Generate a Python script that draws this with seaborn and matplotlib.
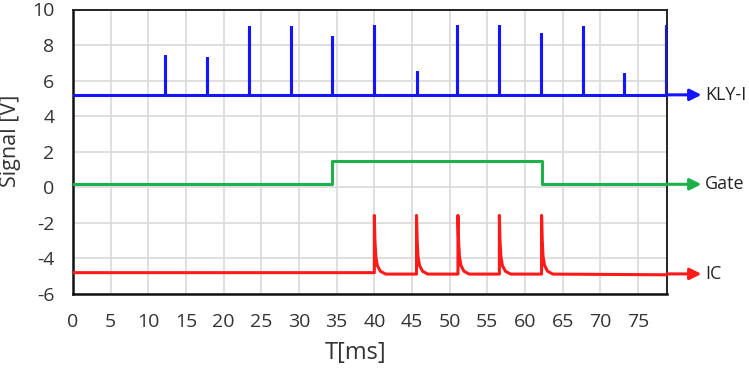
import numpy as np
import pandas as pd
import matplotlib
matplotlib.use("Agg")
import matplotlib.pyplot as plt
import seaborn as sns

# ---------------- data ----------------
t_end = 78.85

kly_base = 5.2
kly_spike_t = [12.2, 17.8, 23.4, 28.9, 34.4, 40.0, 45.6, 51.0, 56.6, 62.1, 67.7, 73.2, 78.75]
kly_spike_v = [7.4, 7.3, 9.0, 9.0, 8.45, 9.08, 6.5, 9.08, 9.08, 8.65, 9.03, 6.4, 9.05]

gate_t = [0.0, 34.4, 34.4, 62.2, 62.2, t_end]
gate_v = [0.17, 0.17, 1.47, 1.47, 0.17, 0.17]

ic_base = -4.8
ic_pulse_t = [40.0, 45.6, 51.1, 56.6, 62.2]
ic_peak = -1.58
ic_decay_dt = [0.08, 0.2, 0.4, 0.8, 1.5]
ic_decay_v = [-3.0, -3.9, -4.4, -4.72, -4.88]
ic_tail = -4.92

xticks = list(range(0, 80, 5))
yticks = list(range(-6, 11, 2))

# ---------------- build traces ----------------
kt, kv = [0.0], [kly_base]
for t, v in zip(kly_spike_t, kly_spike_v):
    kt += [t, t, t]
    kv += [kly_base, v, kly_base]
if kt[-1] < t_end:
    kt.append(t_end); kv.append(kly_base)
kly = pd.DataFrame({"t": kt, "v": kv})

gate = pd.DataFrame({"t": gate_t, "v": gate_v})

it, iv = [0.0], [ic_base]
for p in ic_pulse_t:
    it += [p, p]
    iv += [iv[-1], ic_peak]
    it += [p + d for d in ic_decay_dt]
    iv += ic_decay_v
it.append(t_end); iv.append(ic_tail)
ic = pd.DataFrame({"t": it, "v": iv})

# ---------------- plot ----------------
sns.set_style("white")
plt.rcParams["font.family"] = ["Open Sans", "DejaVu Sans"]
plt.rcParams["axes.unicode_minus"] = False

fig = plt.figure(figsize=(7.49, 3.71), dpi=100)
ax = fig.add_axes([73 / 749, 1 - 294 / 371, (667 - 73) / 749, (294 - 9.5) / 371])

blue, green, red = "#1414ff", "#1db14b", "#ff1a1a"

for df, c in [(kly, blue), (gate, green), (ic, red)]:
    sns.lineplot(data=df, x="t", y="v", sort=False, estimator=None, color=c, lw=2.2,
                 ax=ax, zorder=3)

ax.set_xlim(0, t_end)
ax.set_ylim(-6, 10)
ax.set_xticks(xticks)
ax.set_yticks(yticks)
ax.set_xticklabels([str(x) for x in xticks])
ax.set_yticklabels([str(y) for y in yticks])
ax.grid(True, color="#d9d9d9", lw=1.2)
ax.set_axisbelow(True)

for s in ["left", "bottom"]:
    ax.spines[s].set_color("#111111")
    ax.spines[s].set_linewidth(1.8)
for s in ["top", "right"]:
    ax.spines[s].set_color("#222222")
    ax.spines[s].set_linewidth(1.4)
    ax.spines[s].set_visible(True)

ax.tick_params(axis="both", direction="inout", length=9, width=1.6, color="#111111",
               labelsize=14, labelcolor="#333333", pad=9)
ax.tick_params(top=False, right=False)

ax.set_xlabel("T[ms]", fontsize=17, color="#333333")
ax.set_ylabel("Signal [V]", fontsize=15.5, color="#333333")
ax.xaxis.set_label_coords(0.475, -0.165)
ax.yaxis.set_label_coords(-0.088, 0.538)

# arrows + labels on the right
for y, c, lab in [(kly_base, blue, "KLY-I"), (gate_v[-1], green, "Gate"), (ic_tail + 0.05, red, "IC")]:
    ax.annotate("", xy=(1.058, y), xytext=(1.0, y), xycoords=("axes fraction", "data"),
                textcoords=("axes fraction", "data"), annotation_clip=False,
                arrowprops=dict(arrowstyle="-|>", color=c, lw=2.2, mutation_scale=17,
                                shrinkA=0, shrinkB=0))
    ax.text(1.064, y, lab, transform=ax.get_yaxis_transform(), va="center", ha="left",
            fontsize=13, color="#222222")

fig.savefig("out.png", dpi=100)
